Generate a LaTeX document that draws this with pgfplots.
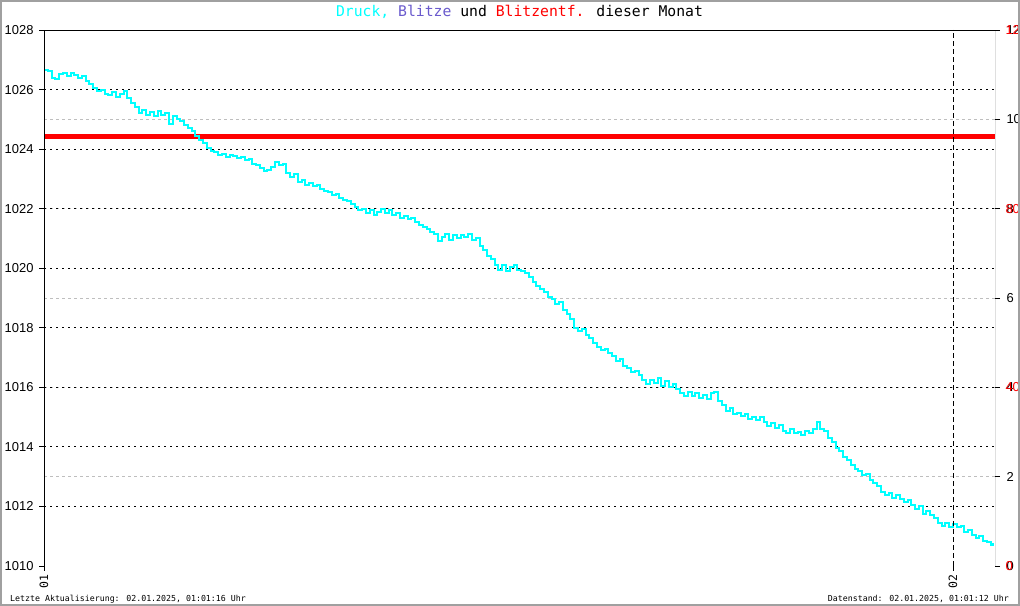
\documentclass[border=0pt]{standalone}
\usepackage{pgfplots}
\usepackage{pgfplotstable}
\usepackage{fontspec}
\pgfplotsset{compat=1.18}
\newfontfamily\monofont{DejaVu Sans Mono}
\newfontfamily\ticksfont{Liberation Sans}
\definecolor{druck}{RGB}{0,255,255}
\definecolor{blitze}{RGB}{106,90,205}
\definecolor{frame}{RGB}{160,160,160}
\definecolor{gridgray}{RGB}{190,190,190}

% hours since 01.01. 00:00 , pressure in hPa
\pgfplotstableread{
h p
0.0 1026.66
0.1 1026.62
0.2 1026.40
0.3 1026.35
0.4 1026.52
0.5 1026.55
0.6 1026.45
0.7 1026.55
0.8 1026.50
0.9 1026.38
1.0 1026.45
1.1 1026.30
1.2 1026.20
1.3 1026.05
1.4 1025.95
1.5 1025.98
1.6 1025.85
1.7 1025.80
1.8 1025.92
1.9 1025.75
2.0 1025.85
2.1 1025.95
2.2 1025.70
2.3 1025.55
2.4 1025.40
2.5 1025.20
2.6 1025.30
2.7 1025.15
2.8 1025.25
2.9 1025.10
3.0 1025.28
3.1 1025.15
3.2 1025.20
3.3 1024.85
3.4 1025.10
3.5 1025.00
3.6 1024.95
3.7 1024.80
3.8 1024.70
3.9 1024.60
4.0 1024.45
4.1 1024.30
4.2 1024.20
4.3 1024.05
4.4 1023.95
4.5 1023.90
4.6 1023.80
4.7 1023.85
4.8 1023.72
4.9 1023.80
5.0 1023.78
5.1 1023.70
5.2 1023.75
5.3 1023.62
5.4 1023.68
5.5 1023.50
5.6 1023.45
5.7 1023.35
5.8 1023.25
5.9 1023.30
6.0 1023.40
6.1 1023.55
6.2 1023.45
6.3 1023.50
6.4 1023.20
6.5 1023.05
6.6 1023.15
6.7 1022.90
6.8 1022.95
6.9 1022.80
7.0 1022.85
7.1 1022.75
7.2 1022.80
7.3 1022.65
7.4 1022.60
7.5 1022.55
7.6 1022.45
7.7 1022.50
7.8 1022.35
7.9 1022.30
8.0 1022.25
8.1 1022.15
8.2 1022.05
8.3 1021.95
8.4 1022.00
8.5 1021.85
8.6 1021.95
8.7 1021.80
8.8 1021.90
8.9 1022.00
9.0 1021.85
9.1 1021.95
9.2 1021.80
9.3 1021.85
9.4 1021.70
9.5 1021.75
9.6 1021.65
9.7 1021.70
9.8 1021.55
9.9 1021.45
10.0 1021.40
10.1 1021.30
10.2 1021.20
10.3 1021.15
10.4 1020.90
10.5 1021.05
10.6 1021.15
10.7 1020.95
10.8 1021.10
10.9 1021.00
11.0 1021.10
11.1 1021.05
11.2 1021.15
11.3 1020.95
11.4 1021.00
11.5 1020.75
11.6 1020.60
11.7 1020.40
11.8 1020.30
11.9 1020.10
12.0 1019.95
12.1 1020.10
12.2 1019.90
12.3 1020.05
12.4 1020.10
12.5 1019.95
12.6 1019.90
12.7 1019.85
12.8 1019.70
12.9 1019.55
13.0 1019.40
13.1 1019.30
13.2 1019.20
13.3 1019.05
13.4 1018.95
13.5 1018.80
13.6 1018.85
13.7 1018.60
13.8 1018.45
13.9 1018.30
14.0 1018.00
14.1 1017.90
14.2 1017.95
14.3 1017.75
14.4 1017.65
14.5 1017.50
14.6 1017.35
14.7 1017.25
14.8 1017.30
14.9 1017.15
15.0 1017.05
15.1 1016.90
15.2 1016.95
15.3 1016.70
15.4 1016.65
15.5 1016.50
15.6 1016.55
15.7 1016.40
15.8 1016.25
15.9 1016.10
16.0 1016.25
16.1 1016.15
16.2 1016.30
16.3 1016.05
16.4 1016.20
16.5 1016.00
16.6 1016.10
16.7 1015.95
16.8 1015.80
16.9 1015.70
17.0 1015.85
17.1 1015.70
17.2 1015.80
17.3 1015.65
17.4 1015.75
17.5 1015.60
17.6 1015.80
17.7 1015.85
17.8 1015.55
17.9 1015.40
18.0 1015.20
18.1 1015.30
18.2 1015.10
18.3 1015.15
18.4 1015.05
18.5 1015.10
18.6 1014.95
18.7 1015.00
18.8 1014.90
18.9 1015.00
19.0 1014.85
19.1 1014.70
19.2 1014.80
19.3 1014.65
19.4 1014.75
19.5 1014.55
19.6 1014.45
19.7 1014.60
19.8 1014.45
19.9 1014.50
20.0 1014.40
20.1 1014.55
20.2 1014.45
20.3 1014.60
20.4 1014.85
20.5 1014.60
20.6 1014.55
20.7 1014.30
20.8 1014.15
20.9 1013.95
21.0 1013.85
21.1 1013.65
21.2 1013.55
21.3 1013.40
21.4 1013.25
21.5 1013.20
21.6 1013.05
21.7 1013.10
21.8 1012.90
21.9 1012.80
22.0 1012.70
22.1 1012.50
22.2 1012.40
22.3 1012.45
22.4 1012.30
22.5 1012.40
22.6 1012.25
22.7 1012.15
22.8 1012.20
22.9 1012.05
23.0 1011.90
23.1 1012.00
23.2 1011.75
23.3 1011.85
23.4 1011.70
23.5 1011.60
23.6 1011.45
23.7 1011.35
23.8 1011.45
23.9 1011.30
24.0 1011.40
24.1 1011.30
24.2 1011.35
24.3 1011.15
24.4 1011.20
24.5 1011.05
24.6 1010.95
24.7 1011.00
24.8 1010.85
24.9 1010.80
25.0 1010.70
25.05 1010.78
}\druck

% Blitzentfernung (km), constant line
\pgfplotstableread{
h d
0 96.1
25.11 96.1
}\entf

\begin{document}
\begin{tikzpicture}[x=1bp,y=1bp]
\fill[white] (0,0) rectangle (1020,606);
\useasboundingbox (0,0) rectangle (1020,606);

\pgfplotsset{
  base/.style={
    at={(44bp,40bp)}, anchor=south west,
    scale only axis, width=951bp, height=536bp,
    xmin=0, xmax=25.11,
    axis line style={draw=none},
    tick align=outside,
    major tick length=5bp,
    tick style={black, line width=0.8bp},
    /pgf/number format/assume math mode=true,
    /pgf/number format/1000 sep={},
    ticklabel style={font=\fontsize{13}{13}\selectfont\ticksfont},
  }
}

% right axis 0..12 (Blitze) with grey dashed grid
\begin{axis}[base,
  ymin=0, ymax=12,
  hide x axis,
  ytick pos=right, yticklabel pos=right,
  ytick={2,4,6,8,10},
  extra y ticks={0,12},
  extra y tick style={grid=none},
  ymajorgrids,
  major grid style={gridgray, line width=0.8bp, dash pattern=on 3bp off 3bp},
  yticklabel style={xshift=3bp},
]
\end{axis}

% red axis 0..120 (Blitzentf.)
\begin{axis}[base,
  ymin=0, ymax=120,
  hide x axis,
  ytick pos=right, yticklabel pos=right,
  ytick={0,40,80,120},
  major tick length=0bp,
  yticklabel style={red, xshift=7bp},
]
\addplot[red, line width=5bp] table[x=h, y=d] {\entf};
\end{axis}

% main axis: pressure
\begin{axis}[base,
  ymin=1010, ymax=1028,
  ytick={1012,1014,...,1026},
  extra y ticks={1010,1028},
  extra y tick style={grid=none},
  ymajorgrids,
  major grid style={black, line width=0.8bp, dash pattern=on 2bp off 4bp},
  ytick pos=left,
  xtick={0,24}, xticklabels={01,02},
  xtick pos=bottom,
  xticklabel style={rotate=90, anchor=east, font=\fontsize{11.5}{11.5}\selectfont\monofont},
  yticklabel style={xshift=-2bp},
]
\addplot[druck, line width=2bp, const plot] table[x=h, y=p] {\druck};
\draw[black, line width=0.8bp, dash pattern=on 5bp off 3bp] (axis cs:24,1010) -- (axis cs:24,1028);
\draw[black, line width=0.8bp] (rel axis cs:0,0) -- (rel axis cs:0,1) -- (rel axis cs:1,1) -- (rel axis cs:1,0);
\draw[black, line width=0.8bp, dash pattern=on 4bp off 3bp] (rel axis cs:0,0) -- (rel axis cs:1,0);
\end{axis}

% title
\node[font=\fontsize{14.8}{14.8}\selectfont\monofont, anchor=base] at (519.5,589)
  {\textcolor{druck}{Druck,} \textcolor{blitze}{Blitze} und \textcolor{red}{Blitzentf.} dieser Monat};
% footers
\node[font=\fontsize{8.3}{8.3}\selectfont\monofont, anchor=base west, inner sep=0pt] at (10,4)
  {Letzte Aktualisierung: 02.01.2025, 01:01:16 Uhr};
\node[font=\fontsize{8.3}{8.3}\selectfont\monofont, anchor=base east, inner sep=0pt] at (1009,4)
  {Datenstand: 02.01.2025, 01:01:12 Uhr};

\draw[frame, line width=2bp] (1,1) rectangle (1019,605);
\end{tikzpicture}
\end{document}
